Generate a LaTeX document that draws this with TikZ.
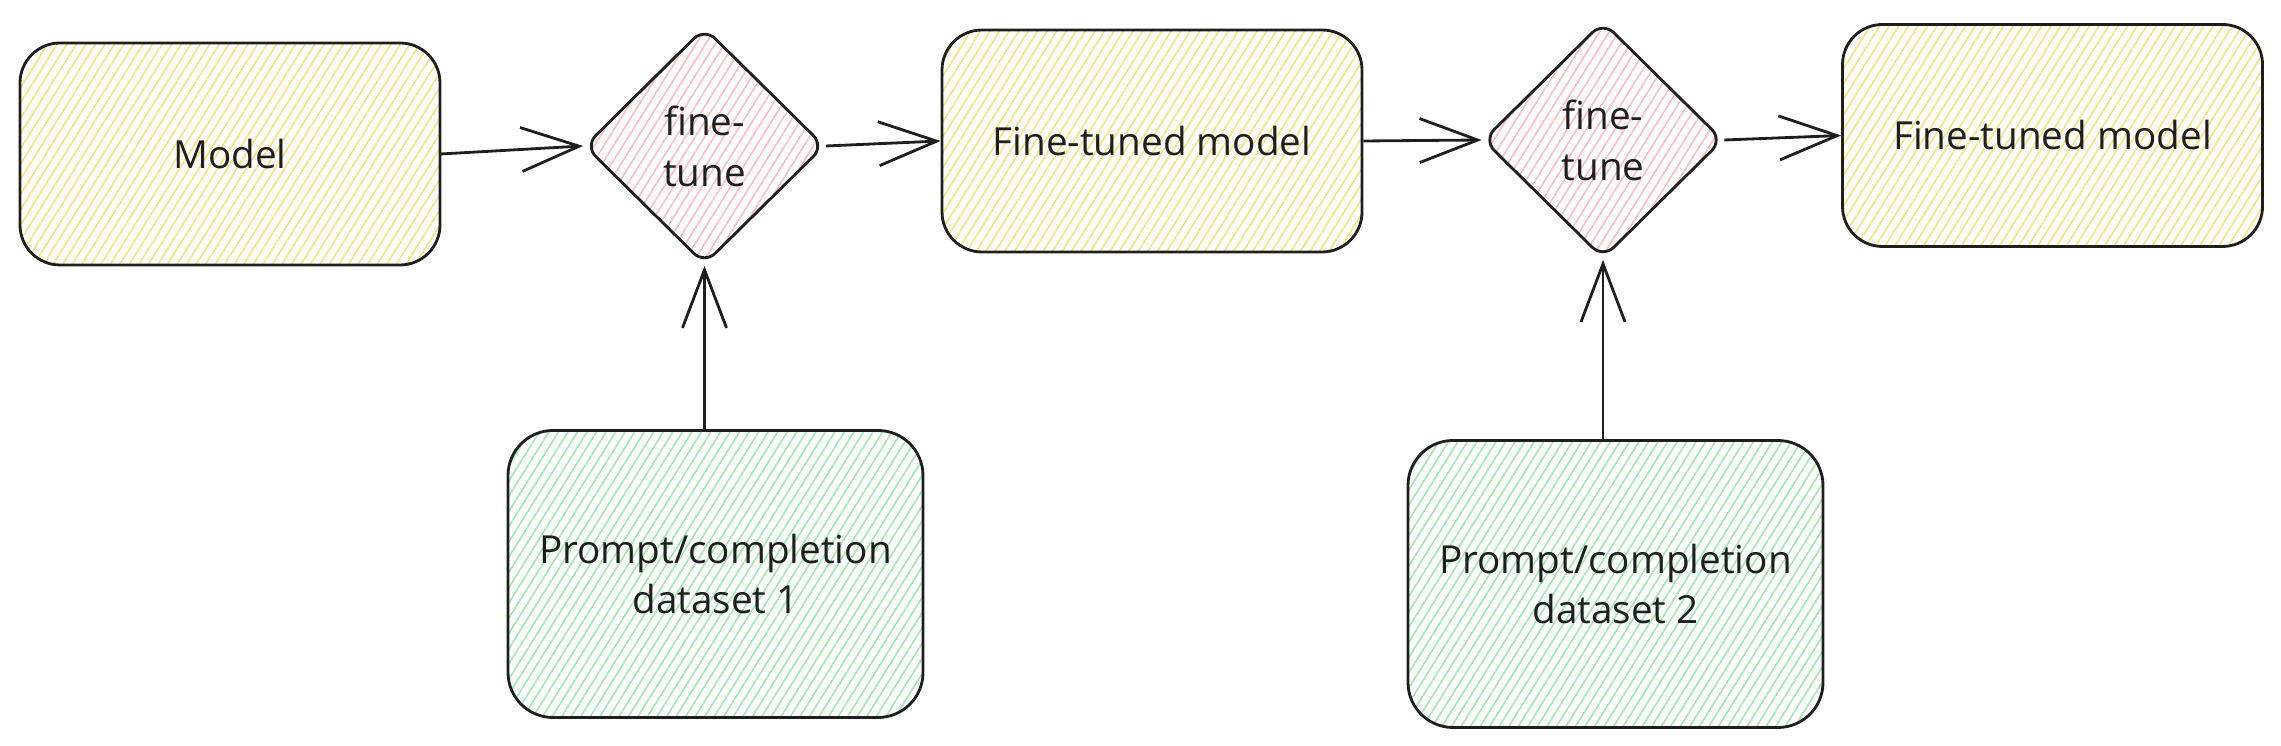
\documentclass[tikz,border=0pt]{standalone}
\usepackage{fontspec}
\setmainfont{Open Sans}
\usetikzlibrary{shapes.geometric,arrows.meta,patterns.meta,positioning}

\definecolor{inkblack}{HTML}{1E1E1E}
\definecolor{hatchyellow}{HTML}{FFE07A}
\definecolor{hatchred}{HTML}{FFBDBD}
\definecolor{hatchgreen}{HTML}{A0EAAB}

\begin{document}
\begin{tikzpicture}[
  hand/.style={draw=inkblack,line width=0.8pt,text=inkblack,align=center,inner sep=0pt,
    font=\fontsize{11}{14.5}\selectfont},
  hatch/.style={pattern={Lines[angle=58,distance=2.3pt,line width=0.45pt]},pattern color=#1},
  modelbox/.style={hand,hatch=hatchyellow,rounded corners=0.4cm,
    minimum width=4.2cm,minimum height=2.22cm},
  databox/.style={hand,hatch=hatchgreen,rounded corners=0.45cm,
    minimum width=4.15cm,minimum height=2.87cm},
  tunestep/.style={hand,hatch=hatchred,diamond,rounded corners=0.15cm,
    minimum width=2.4cm,minimum height=2.37cm},
  flow/.style={draw=inkblack,line width=0.8pt,
    -{Straight Barb[length=0.58cm,width=0.44cm,line width=0.8pt]}}
]
\useasboundingbox (0,0) rectangle (22.81,-7.46);

% Top row
\node[modelbox] (model) at (2.30,-1.54) {Model};
\node[tunestep] (tune1) at (7.045,-1.46) {fine-\\tune};
\node[modelbox] (tuned1) at (11.52,-1.41) {Fine-tuned model};
\node[tunestep] (tune2) at (16.03,-1.40) {fine-\\tune};
\node[modelbox] (tuned2) at (20.525,-1.355) {Fine-tuned model};

% Datasets
\node[databox] (data1) at (7.155,-5.74) {Prompt/completion\\dataset 1};
\node[databox] (data2) at (16.155,-5.84) {Prompt/completion\\dataset 2};

% Arrows
\draw[flow] (model.east) -- (tune1.west);
\draw[flow] (tune1.east) -- (tuned1.west);
\draw[flow] (tuned1.east) -- (tune2.west);
\draw[flow] (tune2.east) -- (tuned2.west);
\draw[flow] (data1.north -| tune1.south) -- (tune1.south);
\draw[flow] (data2.north -| tune2.south) -- (tune2.south);
\end{tikzpicture}
\end{document}
